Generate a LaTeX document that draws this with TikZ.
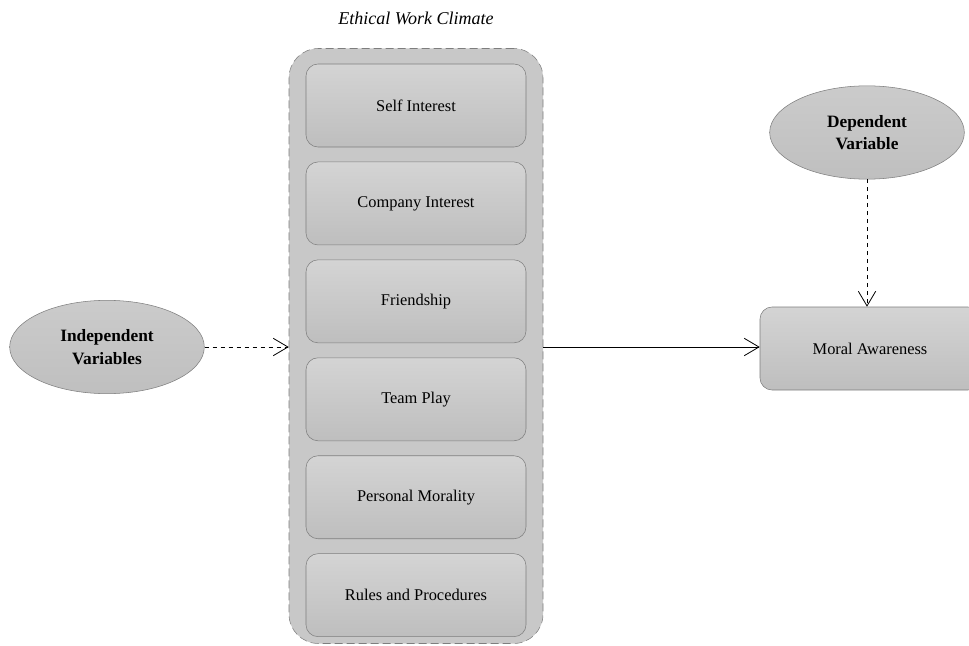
\documentclass[tikz,border=0pt]{standalone}
\usepackage{fontspec}
\setmainfont{Liberation Serif}
\usetikzlibrary{positioning,arrows.meta,shapes.geometric}
\definecolor{linegray}{HTML}{7E7E7E}
\definecolor{framegray}{HTML}{C8C8C8}
\definecolor{boxtop}{HTML}{D4D4D4}
\definecolor{boxbottom}{HTML}{BEBEBE}
\definecolor{ovaltop}{HTML}{CBCBCB}
\definecolor{ovalbottom}{HTML}{BFBFBF}
\tikzset{
    climatebox/.style={draw=linegray, rounded corners=9pt, minimum width=165pt,
        minimum height=62.25pt, top color=boxtop, bottom color=boxbottom,
        font=\fontsize{12.3}{14}\selectfont},
    climateframe/.style={draw=linegray, dash pattern=on 6pt off 3pt, rounded corners=22pt,
        fill=framegray, minimum width=190.5pt, minimum height=446.25pt},
    varoval/.style={ellipse, draw=linegray, top color=ovaltop, bottom color=ovalbottom,
        minimum width=146pt, minimum height=70pt, align=center,
        font=\fontsize{13}{17}\selectfont\bfseries},
    link/.style={-{Straight Barb[length=11pt,width=13pt]}, line width=0.6pt}
}
\begin{document}
\begin{tikzpicture}[x=0.75pt,y=-0.75pt]
                \useasboundingbox (0,0) rectangle (969,645);
                \clip (0,0) rectangle (969,645);
                \node[climateframe] (climate) at (416,346) {};
                \node[above=14pt of climate, font=\fontsize{13.5}{16}\selectfont\itshape] (title) {Ethical Work Climate};
                \node[climatebox] (self) at (416,105.5) {Self Interest};
                \node[climatebox, below=10.8pt of self] (company) {Company Interest};
                \node[climatebox, below=10.8pt of company] (friend) {Friendship};
                \node[climatebox, below=10.8pt of friend] (team) {Team Play};
                \node[climatebox, below=10.8pt of team] (personal) {Personal Morality};
                \node[climatebox, below=10.8pt of personal] (rules) {Rules and Procedures};
                \node[varoval] (indep) at (107,347) {Independent\\Variables};
                \node[climatebox] (moral) at (870,348.5) {Moral Awareness};
                \node[varoval] (dep) at (867,132.5) {Dependent\\Variable};
                \draw[link, dashed] (indep.east) -- (indep.east -| climate.west);
                \draw[link] (climate.east |- indep.east) -- (indep.east -| moral.west);
                \draw[link, dashed] (dep.south) -- (dep.south |- moral.north);
\end{tikzpicture}
\end{document}
